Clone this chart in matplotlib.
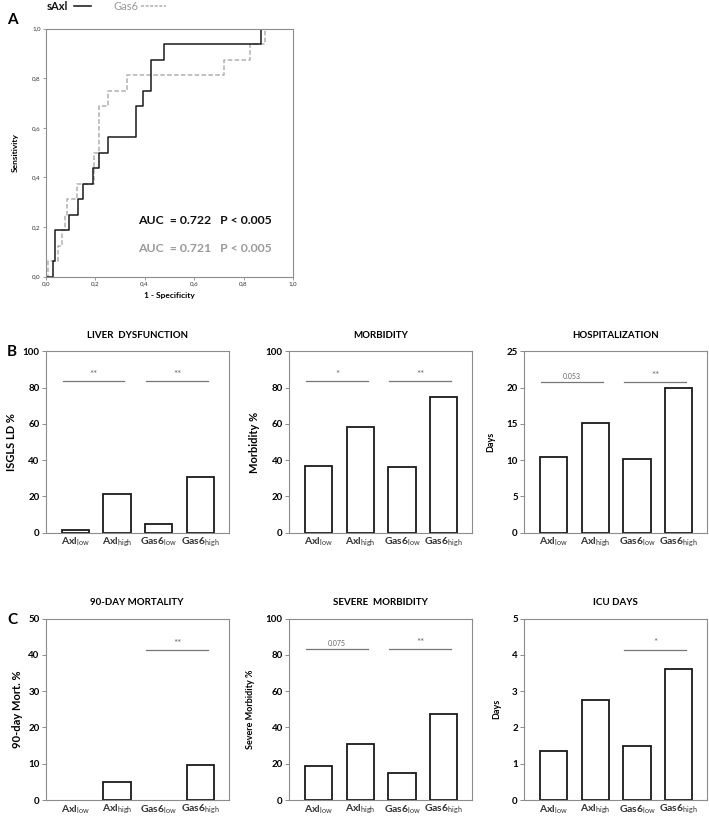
import matplotlib
matplotlib.use("Agg")
import matplotlib.pyplot as plt
from matplotlib.lines import Line2D

plt.rcParams['font.family'] = ['Lato', 'DejaVu Sans']
plt.rcParams['mathtext.fontset'] = 'custom'
plt.rcParams['mathtext.rm'] = 'Lato'
plt.rcParams['mathtext.bf'] = 'Lato:bold'

# ROC curves (step corners: fpr, tpr)
axl_fpr = [0.0, 0.028, 0.038, 0.094, 0.13, 0.15, 0.19, 0.217, 0.253, 0.366, 0.394, 0.424, 0.479, 0.872, 1.0]
axl_tpr = [0.0, 0.0625, 0.1875, 0.25, 0.3125, 0.375, 0.4375, 0.5, 0.5625, 0.6875, 0.75, 0.875, 0.9375, 1.0, 1.0]
gas_fpr = [0.0, 0.01, 0.051, 0.065, 0.078, 0.085, 0.125, 0.195, 0.217, 0.253, 0.33, 0.721, 0.825, 0.886, 1.0]
gas_tpr = [0.0, 0.0625, 0.125, 0.1875, 0.25, 0.3125, 0.375, 0.5, 0.6875, 0.75, 0.8125, 0.875, 0.9375, 1.0, 1.0]

groups = ["Axl", "Axl", "Gas6", "Gas6"]
levels = ["low", "high", "low", "high"]

titles = ["LIVER  DYSFUNCTION", "MORBIDITY", "HOSPITALIZATION",
          "90-DAY MORTALITY", "SEVERE  MORBIDITY", "ICU DAYS"]
ylabels = ["ISGLS LD %", "Morbidity %", "Days", "90-day Mort. %", "Severe Morbidity %", "Days"]
ymaxes = [100, 100, 25, 50, 100, 5]
ysteps = [20, 20, 5, 10, 20, 1]
values = [
    [1.3, 21.5, 4.6, 30.5],
    [36.8, 58.5, 36.2, 74.7],
    [10.4, 15.1, 10.2, 19.9],
    [0.0, 5.05, 0.0, 9.65],
    [18.6, 31.1, 15.1, 47.4],
    [1.35, 2.76, 1.5, 3.62],
]
# significance brackets: (first bar, height, label)
sig = [
    [(0, 83.5, "**"), (2, 83.5, "**")],
    [(0, 83.5, "*"), (2, 83.5, "**")],
    [(0, 20.8, "0.053"), (2, 20.8, "**")],
    [(2, 41.4, "**")],
    [(0, 83.3, "0.075"), (2, 83.3, "**")],
    [(2, 4.15, "*")],
]

W, H = 709, 818
fig = plt.figure(figsize=(W / 100, H / 100), dpi=100)
frame = "#8c8c8c"


def px_axes(x0, y0, x1, y1):
    return fig.add_axes([x0 / W, 1 - y1 / H, (x1 - x0) / W, (y1 - y0) / H])


# ---- panel A : ROC ----
ax = px_axes(45.7, 28.7, 293, 276.7)
ax.step(gas_fpr, gas_tpr, where='post', color="#b0b0b0", lw=1.1, ls=(0, (3, 1.5)))
ax.step(axl_fpr, axl_tpr, where='post', color="#1a1a1a", lw=1.1)
ax.set_xlim(0, 1)
ax.set_ylim(0, 1)
ticks = [0, 0.2, 0.4, 0.6, 0.8, 1.0]
tlab = ["0,0", "0,2", "0,4", "0,6", "0,8", "1,0"]
ax.set_xticks(ticks, tlab)
ax.set_yticks(ticks, tlab)
ax.tick_params(labelsize=4.5, length=2, width=0.6, color=frame, pad=1.5, labelcolor="#333333")
for s in ax.spines.values():
    s.set_color(frame)
    s.set_linewidth(0.8)
ax.set_xlabel("1 - Specificity", fontsize=6, fontweight='bold', labelpad=4)
ax.set_ylabel("Sensitivity", fontsize=6, fontweight='bold', labelpad=10)
ax.text(0.372, 0.226, "AUC  = 0.722   P < 0.005", transform=ax.transAxes,
        fontsize=8.8, fontweight='bold', color="#111111", va='center')
ax.text(0.372, 0.112, "AUC  = 0.721   P < 0.005", transform=ax.transAxes,
        fontsize=8.8, fontweight='bold', color="#9a9a9a", va='center')

# legend at the very top
fig.text(47 / W, 1 - 6 / H, "sAxl", fontsize=8, fontweight='bold', color="#111111", va='center')
fig.add_artist(Line2D([74 / W, 91 / W], [1 - 6 / H, 1 - 6 / H], color="#111111", lw=1.1))
fig.text(113 / W, 1 - 6 / H, "Gas6", fontsize=8, color="#9a9a9a", va='center')
fig.add_artist(Line2D([141 / W, 166 / W], [1 - 6 / H, 1 - 6 / H], color="#b0b0b0", lw=1.1,
                      ls=(0, (2, 1))))

# panel letters
fig.text(7 / W, 1 - 20 / H, "A", fontsize=11, fontweight='bold', va='center')
fig.text(7 / W, 1 - 352 / H, "B", fontsize=11, fontweight='bold', va='center')
fig.text(7 / W, 1 - 620 / H, "C", fontsize=11, fontweight='bold', va='center')

# ---- bar panels ----
cols = [(45.7, 228.7), (289, 472), (524, 707)]
rows = [(351.4, 532.7), (618.7, 800)]
xlabels = [r"$\mathbf{%s}_{\mathrm{%s}}$" % (g, l) for g, l in zip(groups, levels)]
pos = list(range(len(groups)))

for i in range(6):
    r, c = divmod(i, 3)
    ax = px_axes(cols[c][0], rows[r][0], cols[c][1], rows[r][1])
    edges = ["#1a1a1a" if v > 0 else "none" for v in values[i]]
    ax.bar(pos, values[i], width=0.66, facecolor="white", edgecolor=edges, linewidth=1.3)
    ax.set_xlim(-0.71, 3.68)
    ax.set_ylim(0, ymaxes[i])
    ax.set_yticks([k * ysteps[i] for k in range(6)])
    ax.set_xticks(pos, xlabels)
    ax.tick_params(axis='y', labelsize=7, length=3, width=0.7, color=frame, pad=1.5)
    ax.tick_params(axis='x', labelsize=7.5, length=0, pad=2, labelcolor="#333333")
    for lab in ax.get_yticklabels():
        lab.set_fontweight('bold')
    for s in ax.spines.values():
        s.set_color(frame)
        s.set_linewidth(0.8)
    ax.set_ylabel(ylabels[i], fontsize=8 if i in (0, 1, 3) else 6.5, fontweight='bold',
                  labelpad=4 if i in (0, 1, 3) else 8)
    ax.set_title(titles[i], fontsize=7, fontweight='bold', pad=10)
    for start, h, lab in sig[i]:
        ax.plot([start - 0.3, start + 1.18], [h, h], color="#777777", lw=0.9)
        small = lab[0].isdigit()
        ax.text(start + 0.44, h + ymaxes[i] * 0.012, lab, ha='center', va='bottom',
                fontsize=5 if small else 7, color="#666666")

fig.savefig("out.png", dpi=100)
